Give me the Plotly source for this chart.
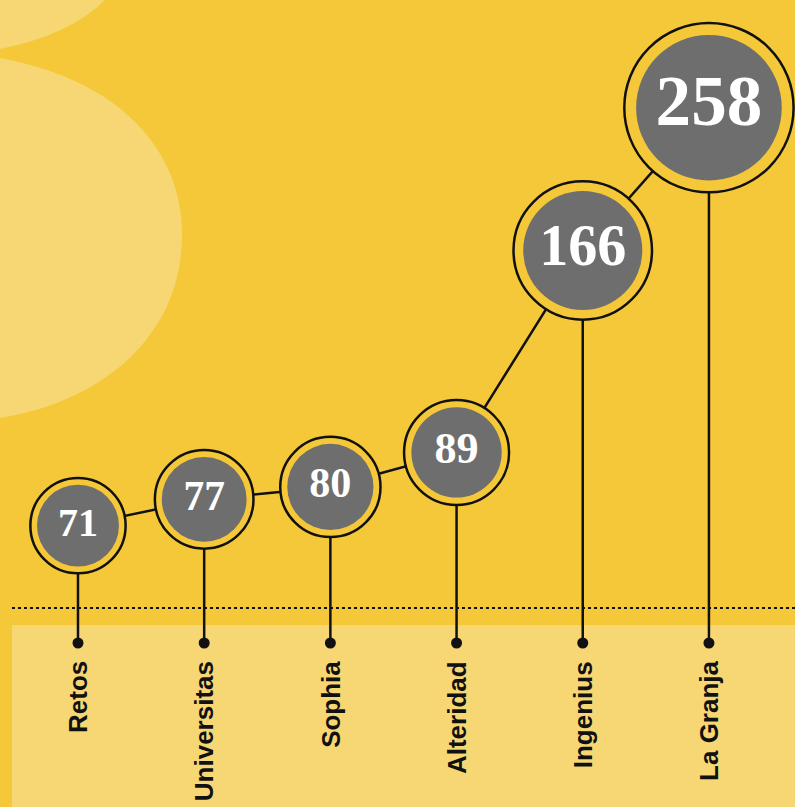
import numpy as np
import plotly.graph_objects as go

# ---- data ----
categories = ["Retos", "Universitas", "Sophia", "Alteridad", "Ingenius", "La Granja"]
values = [71, 77, 80, 89, 166, 258]

# ---- style ----
W, H = 795, 807
BG = "#F4C838"
LIGHT = "#F7D774"
GRAY = "#6E6E6E"
INK = "#111111"

xs = list(range(len(categories)))
v = np.array(values, dtype=float)
outer = 13.5 + 9.7 * np.sqrt(v)       # bubble diameter grows with value
inner = outer * 0.86
fsize = outer * 0.42

YR = [1.474, 2.556]                    # log10 range of the y axis
XR = [-0.618, 5.682]


def py2paper(py):
    return 1 - py / H


def py2val(py):
    return 10 ** (YR[0] + py2paper(py) * (YR[1] - YR[0]))


base = py2val(643)

fig = go.Figure()

# connecting line
fig.add_trace(go.Scatter(x=xs, y=values, mode="lines",
                         line=dict(color=INK, width=2.5), hoverinfo="skip"))
# stems
sx, sy = [], []
for xi, val in zip(xs, values):
    sx += [xi, xi, None]
    sy += [base, val, None]
fig.add_trace(go.Scatter(x=sx, y=sy, mode="lines",
                         line=dict(color=INK, width=2.5), hoverinfo="skip"))
# base dots
fig.add_trace(go.Scatter(x=xs, y=[base] * len(xs), mode="markers",
                         marker=dict(size=11, color=INK, opacity=1), hoverinfo="skip"))
# outer ring
fig.add_trace(go.Scatter(x=xs, y=values, mode="markers",
                         marker=dict(size=outer, color=BG, opacity=1,
                                     line=dict(color=INK, width=2.5)),
                         hoverinfo="skip"))
# inner grey disc with value
fig.add_trace(go.Scatter(x=xs, y=values, mode="markers+text",
                         marker=dict(size=inner, color=GRAY, opacity=1, line=dict(width=0)),
                         text=[str(val) for val in values],
                         textposition="middle center",
                         textfont=dict(family="Liberation Serif", size=fsize,
                                       color="white", weight="bold"),
                         hoverinfo="skip"))

shapes = []


def P(x, y):
    return f"{x / W:.5f},{py2paper(y):.5f}"


# decorative blobs (paper coords)
blob1 = f"M {P(0,0)} L {P(105,0)} Q {P(70,35)} {P(0,49)} Z"
blob2 = (f"M {P(0,58)} C {P(120,80)} {P(182,150)} {P(182,235)} "
         f"C {P(182,330)} {P(110,400)} {P(0,418)} Z")
for p in (blob1, blob2):
    shapes.append(dict(type="path", path=p, xref="paper", yref="paper",
                       fillcolor=LIGHT, line=dict(width=0), layer="below"))
# lower light band
shapes.append(dict(type="rect", xref="paper", yref="paper",
                   x0=12 / W, x1=1, y0=0, y1=py2paper(625),
                   fillcolor=LIGHT, line=dict(width=0), layer="below"))
# dotted line
shapes.append(dict(type="line", xref="paper", yref="paper",
                   x0=12 / W, x1=1, y0=py2paper(608), y1=py2paper(608),
                   line=dict(color=INK, width=2, dash="dot"), layer="below"))

annotations = []
for xi, name in zip(xs, categories):
    annotations.append(dict(x=xi, xref="x", y=py2paper(659), yref="paper",
                            text=name, showarrow=False, textangle=-90,
                            xanchor="center", yanchor="top",
                            font=dict(family="Liberation Sans", size=26,
                                      color=INK, weight="bold")))

fig.update_layout(
    width=W, height=H,
    margin=dict(l=0, r=0, t=0, b=0),
    paper_bgcolor=BG, plot_bgcolor="rgba(0,0,0,0)",
    showlegend=False,
    shapes=shapes, annotations=annotations,
    xaxis=dict(range=XR, visible=False, fixedrange=True),
    yaxis=dict(type="log", range=YR, visible=False, fixedrange=True),
)

fig.write_html("out.html", config={"displayModeBar": False},
               post_script="document.body.style.margin='0';")
